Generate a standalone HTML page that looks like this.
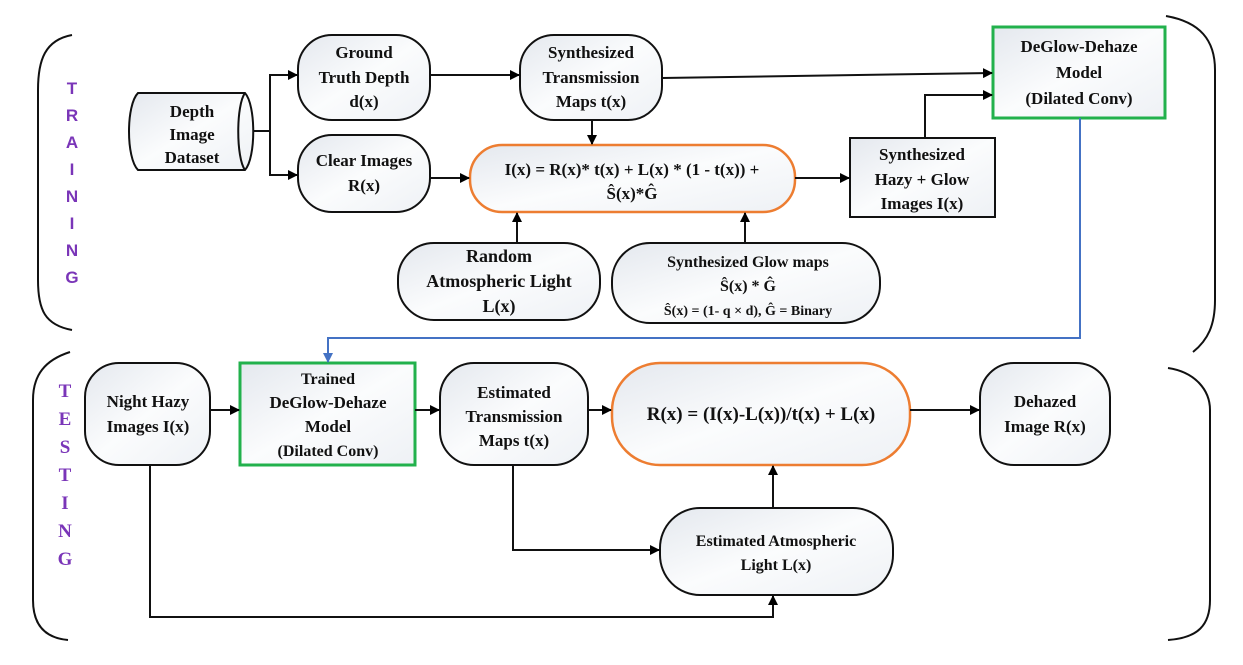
<!DOCTYPE html>
<html><head><meta charset="utf-8"><style>
html,body{margin:0;padding:0;background:#fff;width:1243px;height:665px;overflow:hidden}
text{font-family:"Liberation Serif",serif;font-weight:bold;font-size:17px;fill:#111;text-anchor:middle}
.lb{font-family:"Liberation Sans",sans-serif;fill:#7a35b8;font-size:17px}
.ls{font-family:"Liberation Serif",serif;fill:#7a35b8;font-size:19px}
</style></head><body>
<svg width="1243" height="665" viewBox="0 0 1243 665" xmlns="http://www.w3.org/2000/svg">
<defs>
<linearGradient id="g" x1="0" y1="0" x2="1" y2="1"><stop offset="0" stop-color="#e4e8ee"/><stop offset="0.5" stop-color="#fbfcfd"/><stop offset="1" stop-color="#eef1f5"/></linearGradient>
<marker id="a" markerWidth="10" markerHeight="10" refX="9" refY="5" orient="auto" markerUnits="userSpaceOnUse"><path d="M0,0 L10,5 L0,10z" fill="#000"/></marker>
<marker id="b" markerWidth="10" markerHeight="10" refX="9" refY="5" orient="auto" markerUnits="userSpaceOnUse"><path d="M0,0 L10,5 L0,10z" fill="#4472c4"/></marker>
</defs>
<g fill="none" stroke="#111" stroke-width="2">
<path d="M72,35 C45,40 38,60 38,90 L38,280 C38,310 45,325 72,330"/>
<path d="M1166,16 C1200,22 1215,40 1215,70 L1215,300 C1215,325 1208,340 1193,352"/>
<path d="M70,352 C45,360 33,375 33,400 L33,600 C33,625 45,638 68,640"/>
<path d="M1168,368 C1195,372 1210,390 1210,410 L1210,600 C1210,625 1198,638 1168,640"/>
</g>
<text class="lb" x="72" y="94">T</text><text class="lb" x="72" y="121">R</text><text class="lb" x="72" y="148">A</text><text class="lb" x="72" y="175">I</text><text class="lb" x="72" y="202">N</text><text class="lb" x="72" y="229">I</text><text class="lb" x="72" y="256">N</text><text class="lb" x="72" y="283">G</text>
<text class="ls" x="65" y="397">T</text><text class="ls" x="65" y="425">E</text><text class="ls" x="65" y="453">S</text><text class="ls" x="65" y="481">T</text><text class="ls" x="65" y="509">I</text><text class="ls" x="65" y="537">N</text><text class="ls" x="65" y="565">G</text>

<g stroke="#111" stroke-width="2" fill="url(#g)">
<path d="M138,93 L245,93 C256,105 256,158 245,170 L138,170 C126,158 126,105 138,93Z"/>
<path d="M245,93 C236,105 236,158 245,170" fill="none"/>
<rect x="298" y="35" width="132" height="85" rx="34"/>
<rect x="298" y="135" width="132" height="77" rx="34"/>
<rect x="520" y="35" width="142" height="85" rx="34"/>
<rect x="398" y="243" width="202" height="77" rx="36"/>
<rect x="612" y="243" width="268" height="80" rx="38"/>
<rect x="850" y="138" width="145" height="79"/>
<rect x="85" y="363" width="125" height="102" rx="34"/>
<rect x="440" y="363" width="148" height="102" rx="34"/>
<rect x="980" y="363" width="130" height="102" rx="34"/>
<rect x="660" y="508" width="233" height="87" rx="40"/>
</g>
<rect x="470" y="145" width="325" height="67" rx="32" fill="url(#g)" stroke="#ed7d31" stroke-width="2.5"/>
<rect x="612" y="363" width="298" height="102" rx="48" fill="url(#g)" stroke="#ed7d31" stroke-width="2.5"/>
<rect x="993" y="27" width="172" height="91" fill="url(#g)" stroke="#22b14c" stroke-width="3"/>
<rect x="240" y="363" width="175" height="102" fill="url(#g)" stroke="#22b14c" stroke-width="3"/>

<g stroke="#111" stroke-width="2" fill="none" marker-end="url(#a)">
<path d="M253,131 L270,131 L270,75 L297,75"/>
<path d="M270,131 L270,175 L297,175"/>
<path d="M430,75 L519,75"/>
<path d="M592,120 L592,144"/>
<path d="M430,178 L469,178"/>
<path d="M795,178 L849,178"/>
<path d="M517,243 L517,213"/>
<path d="M745,243 L745,213"/>
<path d="M662,78 L992,73"/>
<path d="M925,138 L925,95 L992,95"/>
<path d="M210,410 L239,410"/>
<path d="M415,410 L439,410"/>
<path d="M588,410 L611,410"/>
<path d="M910,410 L979,410"/>
<path d="M773,508 L773,466"/>
<path d="M513,465 L513,550 L659,550"/>
<path d="M150,465 L150,617 L773,617 L773,596"/>
</g>
<path d="M1080,118 L1080,338 L328,338 L328,362" fill="none" stroke="#4472c4" stroke-width="2" marker-end="url(#b)"/>

<text x="192" y="117">Depth</text><text x="192" y="140">Image</text><text x="192" y="163">Dataset</text>
<text x="364" y="58">Ground</text><text x="364" y="83">Truth Depth</text><text x="364" y="107">d(x)</text>
<text x="364" y="166">Clear Images</text><text x="364" y="191">R(x)</text>
<text x="591" y="58">Synthesized</text><text x="591" y="83">Transmission</text><text x="591" y="107">Maps t(x)</text>
<text x="632" y="175">I(x) = R(x)* t(x) + L(x) * (1 - t(x)) +</text><text x="632" y="199">Ŝ(x)*Ĝ</text>
<text x="922" y="160">Synthesized</text><text x="922" y="185">Hazy + Glow</text><text x="922" y="209">Images I(x)</text>
<text x="1079" y="52">DeGlow-Dehaze</text><text x="1079" y="78">Model</text><text x="1079" y="104">(Dilated Conv)</text>
<text x="499" y="262" style="font-size:18px">Random</text><text x="499" y="287" style="font-size:18px">Atmospheric Light</text><text x="499" y="312" style="font-size:18px">L(x)</text>
<text x="748" y="267" style="font-size:16px">Synthesized Glow maps</text><text x="748" y="291" style="font-size:16px">Ŝ(x) * Ĝ</text><text x="748" y="315" style="font-size:14px">Ŝ(x) = (1- q × d), Ĝ = Binary</text>
<text x="148" y="407">Night Hazy</text><text x="148" y="432">Images I(x)</text>
<text x="328" y="384" style="font-size:16px">Trained</text><text x="328" y="408">DeGlow-Dehaze</text><text x="328" y="432">Model</text><text x="328" y="456" style="font-size:16px">(Dilated Conv)</text>
<text x="514" y="398">Estimated</text><text x="514" y="422">Transmission</text><text x="514" y="446">Maps t(x)</text>
<text x="761" y="420" style="font-size:19px">R(x) = (I(x)-L(x))/t(x) + L(x)</text>
<text x="1045" y="407">Dehazed</text><text x="1045" y="432">Image R(x)</text>
<text x="776" y="546" style="font-size:16px">Estimated  Atmospheric</text><text x="776" y="570" style="font-size:16px">Light L(x)</text>
</svg>
</body></html>
